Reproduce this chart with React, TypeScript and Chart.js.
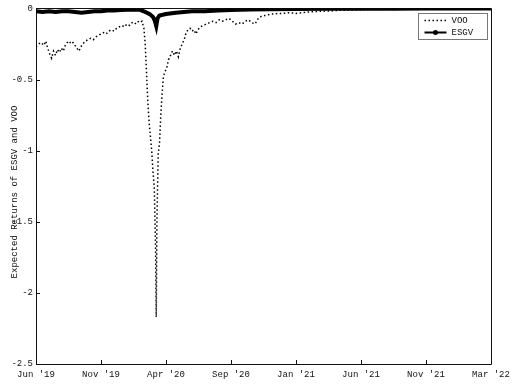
import React, { useEffect, useRef } from "react";
import { Chart, registerables } from "chart.js";

Chart.register(...registerables);

const xTickLabels = ["Jun '19", "Nov '19", "Apr '20", "Sep '20", "Jan '21", "Jun '21", "Nov '21", "Mar '22"];
const yMin = -2.5;
const yMax = 0;
const yStep = 0.5;
const xMax = 700;
const xStep = 100;
const yTitle = "Expected Returns of ESGV and VOO";

const vooDays = [
  0, 4, 8, 12, 15, 18, 21, 24, 27, 30, 33, 36, 39, 42, 45, 48, 51, 54, 57, 60,
  63, 66, 69, 72, 76, 80, 84, 88, 92, 96, 100, 104, 108, 112, 116, 120, 124, 128, 132, 136,
  140, 144, 148, 152, 156, 160, 163, 166, 168, 170, 172, 174, 176, 178, 180, 182, 184, 185, 186, 188,
  190, 192, 194, 196, 198, 201, 204, 207, 210, 213, 216, 219, 222, 225, 228, 231, 234, 237, 240, 243, 246,
  249, 253, 257, 262, 267, 272, 277, 282, 287, 292, 297, 302, 307, 312, 317, 322, 327, 332, 337, 342,
  347, 352, 357, 362, 367, 372, 380, 390, 400, 410, 420, 430, 440, 450, 460, 470, 480, 490, 500, 520,
  540, 560, 580, 600, 620, 640, 660, 680, 700,
];
const vooValues = [
  -0.27, -0.25, -0.24, -0.26, -0.23, -0.28, -0.32, -0.35, -0.30, -0.33, -0.29, -0.31, -0.28, -0.30, -0.26, -0.24, -0.23, -0.25, -0.24, -0.26,
  -0.28, -0.30, -0.27, -0.25, -0.23, -0.22, -0.21, -0.22, -0.20, -0.19, -0.18, -0.17, -0.18, -0.16, -0.15, -0.16, -0.14, -0.13, -0.12, -0.13,
  -0.11, -0.12, -0.10, -0.11, -0.09, -0.10, -0.09, -0.14, -0.25, -0.45, -0.65, -0.80, -0.90, -1.00, -1.15, -1.26, -1.70, -2.17, -1.50, -1.02,
  -0.95, -0.75, -0.60, -0.48, -0.45, -0.42, -0.36, -0.33, -0.30, -0.33, -0.30, -0.34, -0.28, -0.25, -0.22, -0.17, -0.15, -0.14, -0.16, -0.15, -0.18,
  -0.15, -0.13, -0.12, -0.11, -0.10, -0.09, -0.10, -0.08, -0.09, -0.08, -0.07, -0.09, -0.11, -0.10, -0.11, -0.09, -0.08, -0.10, -0.11, -0.07,
  -0.055, -0.05, -0.045, -0.04, -0.04, -0.035, -0.035, -0.03, -0.035, -0.03, -0.025, -0.022, -0.02, -0.018, -0.015, -0.013, -0.012, -0.01, -0.008, -0.006,
  -0.005, -0.004, -0.003, -0.003, -0.002, -0.002, -0.002, -0.001, -0.001,
];

const esgvDays = [
  0, 10, 20, 30, 40, 50, 60, 70, 80, 90, 100, 110, 120, 130, 140, 150, 160, 168, 175, 180,
  183, 185, 187, 190, 200, 215, 240, 260, 280, 300, 330, 360, 400, 450, 500, 550, 600, 650, 700,
];
const esgvValues = [
  -0.02, -0.025, -0.02, -0.025, -0.02, -0.02, -0.025, -0.03, -0.025, -0.02, -0.02, -0.015, -0.015, -0.012, -0.01, -0.01, -0.01, -0.025, -0.04, -0.06,
  -0.09, -0.125, -0.07, -0.05, -0.04, -0.03, -0.02, -0.02, -0.015, -0.012, -0.008, -0.006, -0.004, -0.003, -0.002, -0.002, -0.001, -0.001, -0.001,
];

const FONT = "'Liberation Mono', 'DejaVu Sans Mono', monospace";
const INK = "#111111";

const framePlugin = {
  id: "frameAndLegend",
  beforeDatasetsDraw(chart: any) {
    const { ctx, chartArea: a, scales } = chart;
    ctx.save();
    ctx.strokeStyle = INK;
    ctx.lineWidth = 1;
    ctx.beginPath();
    ctx.rect(Math.round(a.left) + 0.5, Math.round(a.top) + 0.5, Math.round(a.right - a.left), Math.round(a.bottom - a.top));
    scales.x.ticks.forEach((t: any) => {
      const px = Math.round(scales.x.getPixelForValue(t.value)) + 0.5;
      ctx.moveTo(px, a.bottom);
      ctx.lineTo(px, a.bottom - 4);
    });
    scales.y.ticks.forEach((t: any) => {
      const py = Math.round(scales.y.getPixelForValue(t.value)) + 0.5;
      ctx.moveTo(a.left, py);
      ctx.lineTo(a.left + 4, py);
    });
    ctx.stroke();
    ctx.restore();
  },
  afterDatasetsDraw(chart: any) {
    const { ctx, chartArea: a } = chart;
    const ds = chart.data.datasets;
    ctx.save();
    const w = 69, h = 26;
    const lx = Math.round(a.right - 4 - w) + 0.5;
    const ly = Math.round(a.top + 5) + 0.5;
    ctx.fillStyle = "#ffffff";
    ctx.fillRect(lx, ly, w, h);
    ctx.strokeStyle = "#777";
    ctx.lineWidth = 1;
    ctx.strokeRect(lx, ly, w, h);
    const rows = [ly + 7, ly + 19];
    ds.forEach((d: any, i: number) => {
      const y = rows[i];
      ctx.strokeStyle = d.borderColor;
      ctx.lineWidth = i === 0 ? d.borderWidth : 2;
      ctx.setLineDash(d.borderDash || []);
      ctx.beginPath();
      ctx.moveTo(lx + 6, y);
      ctx.lineTo(lx + 28, y);
      ctx.stroke();
      ctx.setLineDash([]);
      if (d.pointRadius > 0) {
        ctx.fillStyle = d.pointBackgroundColor;
        ctx.beginPath();
        ctx.arc(lx + 17, y, 2.5, 0, Math.PI * 2);
        ctx.fill();
      }
      ctx.fillStyle = INK;
      ctx.font = `9px ${FONT}`;
      ctx.textBaseline = "middle";
      ctx.textAlign = "left";
      ctx.fillText(d.label, lx + 33, y);
    });
    ctx.translate(15, chart.height / 2);
    ctx.rotate(-Math.PI / 2);
    ctx.font = `9px ${FONT}`;
    ctx.textAlign = "center";
    ctx.textBaseline = "middle";
    ctx.fillStyle = INK;
    ctx.fillText(yTitle, 0, 0);
    ctx.restore();
  },
};

export default function App() {
  const ref = useRef<HTMLCanvasElement>(null);
  useEffect(() => {
    if (!ref.current) return;
    const chart = new Chart(ref.current, {
      type: "line",
      data: {
        datasets: [
          {
            label: "VOO",
            data: vooDays.map((d, i) => ({ x: d, y: vooValues[i] })),
            borderColor: "#000000",
            borderWidth: 1.5,
            borderDash: [1.5, 2.5],
            pointRadius: 0,
            tension: 0,
            fill: false,
          },
          {
            label: "ESGV",
            data: esgvDays.map((d, i) => ({ x: d, y: esgvValues[i] })),
            borderColor: "#000000",
            borderWidth: 4,
            pointRadius: 1.5,
            pointBackgroundColor: "#000000",
            pointBorderWidth: 0,
            tension: 0,
            fill: false,
          },
        ],
      },
      options: {
        animation: false,
        responsive: true,
        maintainAspectRatio: false,
        layout: { padding: { top: 7, right: 31, left: 0, bottom: 0 } },
        plugins: { legend: { display: false }, tooltip: { enabled: false } },
        scales: {
          x: {
            type: "linear",
            min: 0,
            max: xMax,
            grid: { display: false, drawTicks: false },
            border: { display: false },
            ticks: {
              stepSize: xStep,
              autoSkip: false,
              maxRotation: 0,
              padding: 5,
              color: INK,
              font: { family: FONT, size: 9 },
              callback: (_v: any, i: number) => xTickLabels[i],
            },
            afterFit: (s: any) => {
              s.height = 20;
            },
          },
          y: {
            type: "linear",
            min: yMin,
            max: yMax,
            grid: { display: false, drawTicks: false },
            border: { display: false },
            ticks: {
              stepSize: yStep,
              padding: 3,
              color: INK,
              font: { family: FONT, size: 9 },
              callback: (v: any) => String(v),
            },
            afterFit: (s: any) => {
              s.width = 36;
            },
          },
        },
      },
      plugins: [framePlugin],
    });
    return () => chart.destroy();
  }, []);
  return (
    <div style={{ position: "fixed", left: 0, top: 0, width: 522, height: 384, background: "#fff" }}>
      <canvas ref={ref} />
    </div>
  );
}
